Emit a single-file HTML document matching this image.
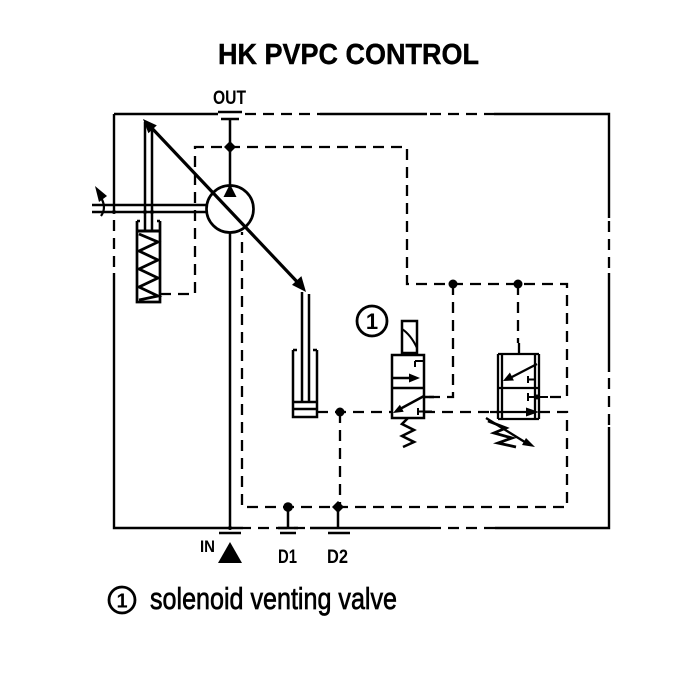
<!DOCTYPE html>
<html>
<head>
<meta charset="utf-8">
<style>
html,body{margin:0;padding:0;background:#fff;}
svg{display:block;}
</style>
</head>
<body>
<svg width="700" height="700" viewBox="0 0 700 700" xmlns="http://www.w3.org/2000/svg">
<rect width="700" height="700" fill="#fff"/>

<!-- Title -->
<text x="218" y="64" font-family="Liberation Sans, sans-serif" font-weight="bold" font-size="29" textLength="261" lengthAdjust="spacingAndGlyphs" fill="#000" stroke="#000" stroke-width="0.4">HK PVPC CONTROL</text>

<g fill="none" stroke="#000" stroke-width="2.4" stroke-linecap="butt">
  <!-- Outer frame solid parts -->
  <path d="M114,114 H218"/>
  <path d="M320,114 H427"/>
  <path d="M494,114 H609 V218"/>
  <path d="M609,273 V372"/>
  <path d="M609,427 V528 H495"/>
  <path d="M430,528 H310"/>
  <path d="M243,528 H114 V273"/>
  <path d="M114,213 V114"/>
</g>

<g fill="none" stroke="#000" stroke-width="2.3" stroke-dasharray="11 7">
  <!-- Outer frame dashed parts -->
  <path d="M245,114 H320"/>
  <path d="M430,114 H494"/>
  <path d="M609,221 V273"/>
  <path d="M609,378 V427"/>
  <path d="M495,528 H430"/>
  <path d="M305,528 H243"/>
  <path d="M114,220 V273"/>

  <!-- Pilot network -->
  <path d="M160,294 H195 V147 H407 V284 H567 V397 H546"/>
  <path d="M453,284 V397 H427"/>
  <path d="M518,284 V343"/>
  <path d="M317,412 H392"/>
  <path d="M424,412 H498"/>
  <path d="M539,412 H567 V507 H242 V232"/>
  <path d="M340,412 V507"/>
</g>

<g fill="none" stroke="#000" stroke-width="2.5">
  <!-- OUT port -->
  <path d="M218,112 H242"/>
  <path d="M221,119 H239"/>
  <path d="M230,119 V186"/>
  <!-- pump -->
  <circle cx="230" cy="209" r="23.5" stroke-width="2.7"/>
  <path d="M230,232 V528"/>
  <!-- IN / drain ports -->
  <path d="M219,533 H241"/>
  <path d="M278,528 H298"/>
  <path d="M280,533 H296"/>
  <path d="M328,533 H350"/>
  <path d="M288,507 V528"/>
  <path d="M338,507 V528"/>
  <!-- shaft -->
  <path d="M92,205 H207"/>
  <path d="M92,212 H207"/>
  <!-- left rod -->
  <path d="M145,122 V230"/>
  <path d="M152,126 V230"/>
  <!-- left cylinder -->
  <path d="M137,221 V302 H160 V221" stroke-width="2.7"/>
  <path d="M137,221 H140 M160,221 H157"/>
  <path d="M137,231 H160" stroke-width="3"/>
  <polyline points="139,234 158,242 139,251 158,260 139,269 158,278 139,287 158,296 139,300" stroke-width="2.8"/>
  <!-- middle cylinder -->
  <path d="M302,292 V402"/>
  <path d="M309,294 V402"/>
  <path d="M293,350 V417 H317 V350"/>
  <path d="M293,350 H297 M317,350 H313"/>
  <path d="M293,402 H317"/>
  <path d="M293,409 H317"/>
  <!-- rotation arrow stem -->
  <path d="M101,216 C106,209 104,202 100,196" stroke-width="2.2"/>
</g>

<!-- Diagonal variable arrow -->
<path d="M148,124 L302,287" stroke="#000" stroke-width="3.2" fill="none"/>
<polygon points="143,119 156.8,125.4 148.4,133.2" fill="#000"/>
<polygon points="306,292 301.4,276.1 292,284.9" fill="#000"/>
<!-- pump triangle -->
<polygon points="230,184 223.5,197 236.5,197" fill="#000"/>
<!-- rotation arrowhead -->
<polygon points="95,186 107,196 99,202" fill="#000"/>

<!-- junction dots -->
<g fill="#000">
  <polygon points="230,141 236,147 230,153 224,147"/>
  <circle cx="453" cy="284" r="4.5"/>
  <circle cx="518" cy="284" r="4.5"/>
  <circle cx="340" cy="412" r="4.5"/>
  <circle cx="288" cy="507" r="4.8"/>
  <polygon points="338,501 344,507 338,513 332,507"/>
  <circle cx="114" cy="212" r="2"/>
  <circle cx="145" cy="212" r="2"/>
  <circle cx="152" cy="212" r="2"/>
  <circle cx="230" cy="528" r="2"/>
</g>

<!-- Left valve (solenoid venting valve) -->
<g fill="none" stroke="#000" stroke-width="2.5">
  <rect x="402" y="321" width="15" height="32"/>
  <path d="M402,329 Q411,335 417,348" stroke-width="2"/>
  <rect x="392" y="355" width="32" height="63"/>
  <path d="M392,388 H424"/>
  <path d="M415,361 H423 M415,361 V367" stroke-width="2"/>
  <path d="M392,378 H412"/>
  <path d="M424,396 L400,409"/>
  <path d="M424,397 H434"/>
  <path d="M418,408 V415 M418,411.5 H432" stroke-width="2"/>
  <polyline points="408,418 402,424 414,430 402,436 414,442 403,447" stroke-width="2.6"/>
</g>
<g fill="#000">
  <polygon points="420,378 409,373.5 409,382.5"/>
  <polygon points="393,413 403.7,411.8 399.9,404.8"/>
</g>

<!-- Right valve -->
<g fill="none" stroke="#000" stroke-width="2.3">
  <path d="M498,354 V419 M502,354 V419 M535,354 V419 M539,354 V419"/>
  <path d="M498,354 H539 M498,388 H539 M498,419 H539"/>
  <path d="M519,343 V354"/>
  <path d="M537,364 L510,378"/>
  <path d="M528,376 V383 M528,379.5 H535" stroke-width="2"/>
  <path d="M528,393 V401 M528,397 H548" stroke-width="2"/>
  <path d="M490,412 H528"/>
  <polyline points="488,421 506,428 494,433 512,438 498,443 516,447" stroke-width="2.8"/>
  <path d="M486,418 L528,444" stroke-width="2.4"/>
</g>
<g fill="#000">
  <polygon points="503,381 513.9,380.5 509.9,372.5"/>
  <polygon points="539,412 526,407.5 526,416.5"/>
  <polygon points="535,447 522,445 526,438"/>
  <circle cx="537" cy="397" r="2.5"/>
</g>

<!-- Callout 1 -->
<circle cx="372" cy="321" r="15" fill="none" stroke="#000" stroke-width="2.8"/>
<text x="372" y="329" text-anchor="middle" font-family="Liberation Sans, sans-serif" font-weight="bold" font-size="22" fill="#000">1</text>

<!-- Port labels -->
<text x="213" y="104" font-family="Liberation Sans, sans-serif" font-weight="bold" font-size="19" textLength="33" lengthAdjust="spacingAndGlyphs" fill="#000">OUT</text>
<text x="200" y="552" font-family="Liberation Sans, sans-serif" font-weight="bold" font-size="17" textLength="15" lengthAdjust="spacingAndGlyphs" fill="#000">IN</text>
<polygon points="230,542 218,563 242,563" fill="#000"/>
<text x="278" y="563" font-family="Liberation Sans, sans-serif" font-weight="bold" font-size="19" textLength="19" lengthAdjust="spacingAndGlyphs" fill="#000">D1</text>
<text x="327" y="563" font-family="Liberation Sans, sans-serif" font-weight="bold" font-size="19" textLength="21" lengthAdjust="spacingAndGlyphs" fill="#000">D2</text>

<!-- Legend -->
<circle cx="122" cy="600" r="13" fill="none" stroke="#000" stroke-width="2.8"/>
<text x="122" y="607.5" text-anchor="middle" font-family="Liberation Sans, sans-serif" font-weight="bold" font-size="20" fill="#000">1</text>
<text x="150" y="609" font-family="Liberation Sans, sans-serif" font-size="31" textLength="247" lengthAdjust="spacingAndGlyphs" fill="#000" stroke="#000" stroke-width="0.7">solenoid venting valve</text>
</svg>
</body>
</html>
